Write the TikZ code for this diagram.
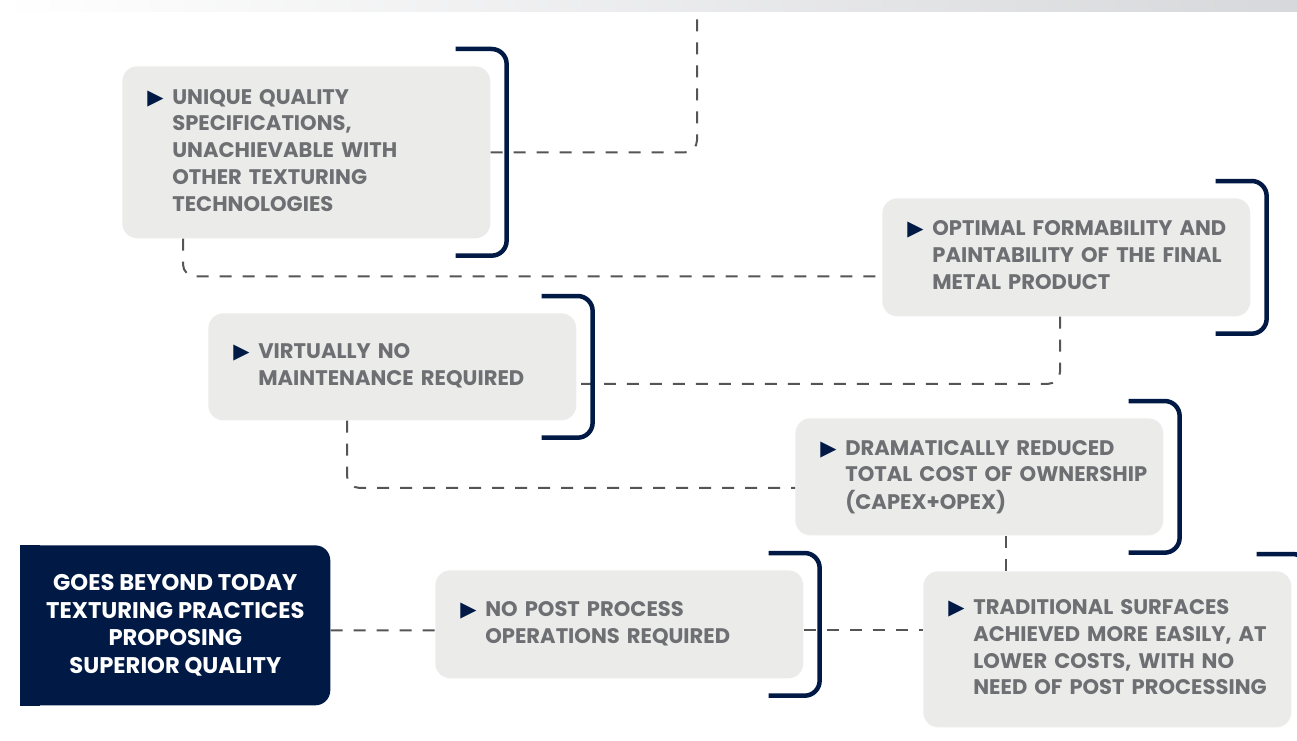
\documentclass[tikz,border=0pt]{standalone}
\usepackage{fontspec}
\setmainfont{Poppins}
\newfontfamily\bulletfont{DejaVu Sans}
\usetikzlibrary{calc}
\definecolor{navy}{RGB}{0,26,69}
\definecolor{boxgrey}{RGB}{235,235,234}
\definecolor{txtgrey}{RGB}{110,111,115}
\definecolor{dashgrey}{RGB}{85,85,87}
\definecolor{stripgrey}{RGB}{215,216,219}
\newdimen\px \px=0.02cm
\newcommand{\itm}[1]{\makebox[25\px][l]{\color{navy}\bulletfont\fontsize{12}{12}\selectfont ▶}\begin{tabular}[t]{@{}l@{}}#1\end{tabular}}
\def\bracket(#1){\draw[bracket] ($(#1.north east)+(-35,-17)$) -- ($(#1.north east)+(16,-17)$) -- ($(#1.south east)+(16,17)$) -- ($(#1.south east)+(-35,17)$);}
\tikzset{
  point/.style={fill=boxgrey, rounded corners=0.3cm, anchor=north west, text width=6.36cm, inner xsep=0.5cm, inner ysep=0pt, align=left, text=txtgrey, font=\fontsize{12}{15.2}\selectfont\bfseries},
  goal/.style={fill=navy, rounded corners=0.3cm, anchor=north west, minimum width=6.2cm, minimum height=3.2cm, inner sep=0pt, align=center, text=white, font=\fontsize{12.9}{15.8}\selectfont\bfseries},
  link/.style={draw=dashgrey, line width=0.04cm, dash pattern=on 0.24cm off 0.22cm, rounded corners=0.24cm},
  bracket/.style={draw=navy, line width=0.09cm, rounded corners=0.3cm}
}

\begin{document}
\begin{tikzpicture}[x=0.02cm,y=-0.02cm]
		%%%%% START %%%%%
		\useasboundingbox (0,0) rectangle (1297,740);
		\clip (0,0) rectangle (1297,740);
		\shade[left color=white, right color=stripgrey] (0,0) rectangle (1297,12);
		
		\node[point, minimum height=3.44cm] (specs) at (122,66) {\itm{UNIQUE QUALITY\\SPECIFICATIONS,\\UNACHIEVABLE WITH\\OTHER TEXTURING\\TECHNOLOGIES}};
		\node[point, minimum height=2.36cm] (forming) at (882,198) {\itm{OPTIMAL FORMABILITY AND\\PAINTABILITY OF THE FINAL\\METAL PRODUCT}};
		\node[point, minimum height=2.14cm] (maint) at (208,313) {\itm{VIRTUALLY NO\\MAINTENANCE REQUIRED}};
		\node[point, minimum height=2.34cm] (cost) at (795,418) {\itm{DRAMATICALLY REDUCED\\TOTAL COST OF OWNERSHIP\\(CAPEX+OPEX)}};
		\node[point, minimum height=2.16cm] (post) at (435,570) {\itm{NO POST PROCESS\\OPERATIONS REQUIRED}};
		\node[point, minimum height=3.12cm] (trad) at (923,571) {\itm{TRADITIONAL SURFACES\\ACHIEVED MORE EASILY, AT\\LOWER COSTS, WITH NO\\NEED OF POST PROCESSING}};
		
		\node[goal] (goal) at (20,545) {GOES BEYOND TODAY\\TEXTURING PRACTICES\\PROPOSING\\SUPERIOR QUALITY};
		\fill[navy] (goal.north west) rectangle ($(goal.south west)+(20,0)$);
		
		% dashed connectors
		\coordinate (top) at (697,12);
		\draw[link] (specs.east) -| (top);
		\draw[link] ($(specs.south west)+(61,0)$) |- ($(forming.west)+(0,19)$);
		\draw[link] ($(forming.south west)+(178,0)$) |- ($(maint.east)+(0,17)$);
		\draw[link] ($(maint.south west)+(139,0)$) |- ($(cost.west)+(0,11)$);
		\coordinate (c5) at ($(cost.south west)+(211,0)$);
		\draw[link] (c5) -- (c5 |- trad.north);
		\draw[link] ($(goal.east)+(0,5)$) -- ($(post.west)+(0,6)$);
		\coordinate (c7) at ($(post.east)+(0,6)$);
		\draw[link] (c7) -- (c7 -| trad.west);
		
		% brackets
		\bracket(specs)
		\bracket(forming)
		\bracket(maint)
		\bracket(cost)
		\bracket(post)
		\bracket(trad)
		
		%%%%% END %%%%%
\end{tikzpicture}
\end{document}
